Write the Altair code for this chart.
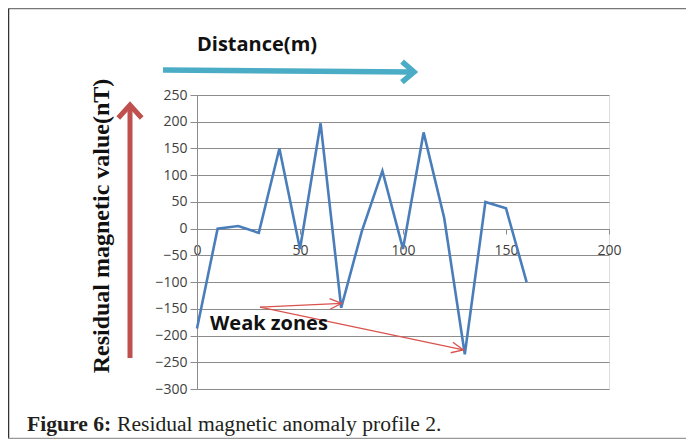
import altair as alt
import pandas as pd

# ---- data ----
distance = [0, 10, 20, 30, 40, 50, 60, 70, 80, 90, 100, 110, 120, 130, 140, 150, 160]
residual = [-187, 0, 5, -8, 150, -38, 197, -148, -5, 108, -38, 180, 20, -235, 50, 38, -100]
y_ticks = [250, 200, 150, 100, 50, 0, -50, -100, -150, -200, -250, -300]
x_ticks = [0, 50, 100, 150, 200]

weak_label = "Weak zones"
weak_start = (30.6, -146.7)
weak_targets_x = [70.2, 129.3]
weak_targets_y = [-139.8, -227.0]
weak_angles = [357.4, 11.9]

x_title = "Distance(m)"
y_title = "Residual magnetic value(nT)"
caption_bold = "Figure 6:"
caption_text = "Residual magnetic anomaly profile 2."

W, H = 412, 294
LINE_BLUE = "#4A7EBB"
GRID = "#8c8c8c"
RED = "#C0504D"
CYAN = "#4BACC6"
TICKFONT = "Open Sans"

df = pd.DataFrame({"d": distance, "r": residual})
one = pd.DataFrame({"k": [0]})

xs = alt.Scale(domain=[0, 200], nice=False)
ys = alt.Scale(domain=[-300, 250], nice=False)

line = alt.Chart(df).mark_line(color=LINE_BLUE, strokeWidth=2.6).encode(
    x=alt.X("d:Q", scale=xs, axis=alt.Axis(
        values=x_ticks, grid=False, orient="bottom", offset=-160,
        domainColor=GRID, tickColor=GRID, tickSize=5, labelPadding=9,
        labelOverlap=False, labelFlush=False,
        labelFont=TICKFONT, labelFontSize=14, labelColor="#404040", title=None)),
    y=alt.Y("r:Q", scale=ys, axis=alt.Axis(
        values=y_ticks, tickCount=12, grid=True, gridColor=GRID, gridWidth=1.2,
        domainColor=GRID, tickColor=GRID, tickSize=7, labelPadding=3,
        labelOverlap=False, labelFlush=False,
        labelFont=TICKFONT, labelFontSize=14, labelColor="#404040", title=None)),
)

# weak zone annotation arrows (data coordinates)
arr = pd.DataFrame({
    "x": [weak_start[0]] * 2, "y": [weak_start[1]] * 2,
    "x2": weak_targets_x, "y2": weak_targets_y, "a": weak_angles,
})
arr_lines = alt.Chart(arr).mark_rule(color="#D9534F", strokeWidth=1.3).encode(
    x=alt.X("x:Q", scale=xs), y=alt.Y("y:Q", scale=ys), x2="x2:Q", y2="y2:Q")
arr_heads = alt.Chart(arr).mark_point(
    shape="M -1 -0.45 L 0 0 L -1 0.45", filled=False, color="#D9534F",
    strokeWidth=1.3, size=560, opacity=1).encode(
    x=alt.X("x2:Q", scale=xs), y=alt.Y("y2:Q", scale=ys), angle=alt.Angle("a:Q", scale=None))
weak_text = alt.Chart(pd.DataFrame({"x": [6.3], "y": [-190], "t": [weak_label]})).mark_text(
    align="left", baseline="alphabetic", font="Open Sans", fontWeight="bold",
    fontSize=20, color="#111111").encode(
    x=alt.X("x:Q", scale=xs), y=alt.Y("y:Q", scale=ys), text="t:N")

# decorations (pixel positions relative to the plot area)
cyan_line = alt.Chart(one).mark_rule(color=CYAN, strokeWidth=5.5).encode(
    x=alt.value(-34), y=alt.value(-25), x2=alt.value(214), y2=alt.value(-23))
cyan_head = alt.Chart(one).mark_point(
    shape="M -1 -0.85 L 0 0 L -1 0.85", filled=False, color=CYAN, strokeWidth=5.5,
    size=576, opacity=1, angle=0.5).encode(x=alt.value(217), y=alt.value(-23))
x_title_t = alt.Chart(one).mark_text(
    align="left", baseline="middle", font="Open Sans", fontWeight="bold",
    fontSize=20, color="#111111", text=x_title).encode(x=alt.value(0), y=alt.value(-50))

red_line = alt.Chart(one).mark_rule(color=RED, strokeWidth=5).encode(
    x=alt.value(-67), y=alt.value(263), x2=alt.value(-67), y2=alt.value(12))
red_head = alt.Chart(one).mark_point(
    shape="M -1 -0.9 L 0 0 L -1 0.9", filled=False, color=RED, strokeWidth=5,
    size=676, opacity=1, angle=270).encode(x=alt.value(-67), y=alt.value(10))
y_title_t = alt.Chart(one).mark_text(
    align="center", baseline="middle", font="Liberation Serif", fontWeight="bold",
    fontSize=24, angle=270, color="#111111", text=y_title).encode(
    x=alt.value(-95), y=alt.value(131))

cap1 = alt.Chart(one).mark_text(
    align="left", baseline="alphabetic", font="Liberation Serif", fontWeight="bold",
    fontSize=21.6, color="#231f20", text=caption_bold).encode(x=alt.value(-170), y=alt.value(336))
cap2 = alt.Chart(one).mark_text(
    align="left", baseline="alphabetic", font="Liberation Serif",
    fontSize=21.6, color="#231f20", text=caption_text).encode(x=alt.value(-80), y=alt.value(336))

border_top = alt.Chart(one).mark_rule(color="#777777", strokeWidth=1.5).encode(
    x=alt.value(-188.5), x2=alt.value(489), y=alt.value(-86.5), y2=alt.value(-86.5))
border_left = alt.Chart(one).mark_rule(color="#333333", strokeWidth=1.5).encode(
    x=alt.value(-188.5), x2=alt.value(-188.5), y=alt.value(-86.5), y2=alt.value(343.5))
border_bottom = alt.Chart(one).mark_rule(color="#999999", strokeWidth=1.5).encode(
    x=alt.value(-188.5), x2=alt.value(489), y=alt.value(343.5), y2=alt.value(343.5))

chart = alt.layer(
    line, arr_lines, arr_heads, weak_text,
    cyan_line, cyan_head, x_title_t, red_line, red_head, y_title_t,
    cap1, cap2, border_top, border_left, border_bottom,
).properties(
    width=W, height=H,
    autosize=alt.AutoSizeParams(type="none"),
    padding={"left": 189, "top": 87, "right": 77, "bottom": 50},
).configure_view(stroke=None, strokeWidth=0).configure(background="white")

chart.save("out.html", embed_options={"renderer": "svg", "actions": False})
